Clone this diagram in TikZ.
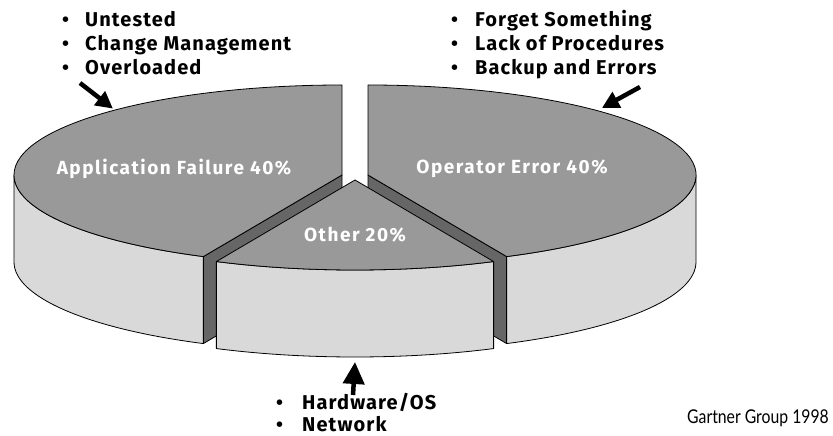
\documentclass[tikz,border=0pt]{standalone}
\usepackage{fontspec}
\setmainfont{Fira Sans}
\newfontfamily\condfont[FakeStretch=0.83]{Lato}
\usetikzlibrary{arrows.meta}
\definecolor{topgray}{gray}{0.6}
\definecolor{wallgray}{gray}{0.85}
\definecolor{cutgray}{gray}{0.4}
\begin{document}
\begin{tikzpicture}[x=1pt,y=1pt,line join=round,
  face/.style={draw=black,line width=0.8pt},
  topface/.style={face,fill=topgray},
  wallface/.style={face,fill=wallgray},
  cutface/.style={face,fill=cutgray},
  slicelabel/.style={text=white,inner sep=0pt,anchor=base,font=\bfseries\fontsize{19}{22}\selectfont\addfontfeatures{LetterSpace=8}},
  listitem/.style={anchor=base west,inner sep=0pt,font=\bfseries\fontsize{20}{22}\selectfont\addfontfeatures{LetterSpace=5.5}},
  bigarrow/.style={line width=4.5pt,-{Triangle[length=17pt,width=17pt]}},
  uparrow/.style={line width=4.5pt,-{Triangle[length=22pt,width=21pt]}},
  er/.style={x radius=328,y radius=90}]
\useasboundingbox (0,0) rectangle (833,436);
% Application Failure slice
\begin{scope}[shift={(342,261)}]
  \draw[cutface] (0,0) -- (245:328 and 90) -- ++(0,-87) -- (0,-87) -- cycle;
  \draw[wallface] (180:328 and 90) arc[er,start angle=180,end angle=245] -- ++(0,-87)
     arc[er,start angle=245,end angle=180] -- cycle;
  \draw[topface] (0,0) -- (90:328 and 90) arc[er,start angle=90,end angle=245] -- cycle;
  \coordinate (tipL) at (134.3:328 and 90);
\end{scope}
% Operator Error slice
\begin{scope}[shift={(368,261)}]
  \draw[cutface] (0,0) -- (295:328 and 90) -- ++(0,-87) -- (0,-87) -- cycle;
  \draw[wallface] (295:328 and 90) arc[er,start angle=295,end angle=360] -- ++(0,-87)
     arc[er,start angle=360,end angle=295] -- cycle;
  \draw[topface] (0,0) -- (295:328 and 90) arc[er,start angle=295,end angle=450] -- cycle;
  \coordinate (tipR) at (44.5:328 and 90);
\end{scope}
% Other slice
\begin{scope}[shift={(355,256)}]
  \draw[wallface] (245:328 and 90) arc[er,start angle=245,end angle=295] -- ++(0,-87)
     arc[er,start angle=295,end angle=245] -- cycle;
  \draw[topface] (0,0) -- (245:328 and 90) arc[er,start angle=245,end angle=295] -- cycle;
  \coordinate (tipB) at (0,-179);
\end{scope}
% slice labels
\node[slicelabel] (appl) at (174,261) {Application Failure 40\%};
\node[slicelabel] (oper) at (512,262) {Operator Error 40\%};
\node[slicelabel] (other) at (355,194) {Other 20\%};
% lists
\node[listitem] (l1) at (62,409) {\makebox[23pt][l]{\textbullet}Untested};
\node[listitem] (l2) at (62,385) {\makebox[23pt][l]{\textbullet}Change Management};
\node[listitem] (l3) at (62,361) {\makebox[23pt][l]{\textbullet}Overloaded};
\node[listitem] (r1) at (451,409) {\makebox[24pt][l]{\textbullet}Forget Something};
\node[listitem] (r2) at (451,385) {\makebox[24pt][l]{\textbullet}Lack of Procedures};
\node[listitem] (r3) at (451,361) {\makebox[24pt][l]{\textbullet}Backup and Errors};
\node[listitem] (b1) at (276,26) {\makebox[26pt][l]{\textbullet}Hardware/OS};
\node[listitem] (b2) at (276,4) {\makebox[26pt][l]{\textbullet}Network};
\node[anchor=base west,inner sep=0pt,font=\condfont\fontsize{19}{22}\selectfont] (src) at (687,12) {Gartner Group 1998};
% arrows
\coordinate (tailL) at (80,353);
\coordinate (tailR) at (640,349);
\coordinate (tailB) at (353,41);
\draw[bigarrow] (tailL) -- ([shift={(0,2)}]tipL);
\draw[bigarrow] (tailR) -- ([shift={(0,4)}]tipR);
\draw[uparrow] (tailB) -- ([shift={(0,-3)}]tipB);
\end{tikzpicture}
\end{document}
